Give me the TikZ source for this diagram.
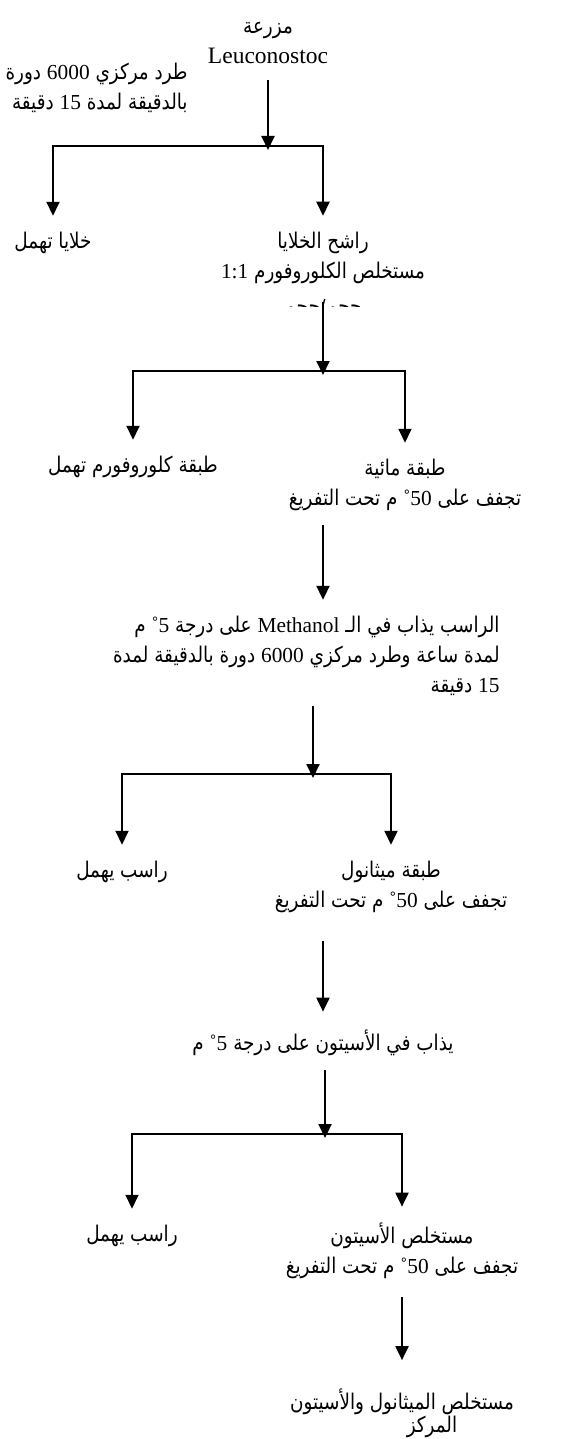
\documentclass[tikz,border=0pt]{standalone}
\usepackage{fontspec}
\setmainfont{Liberation Serif}
\newfontfamily\arabicfont[Script=Arabic,Scale=0.92,FakeStretch=0.85]{DejaVu Sans}
\newfontfamily\latinfont[Scale=0.91]{Liberation Serif}
\TeXXeTstate=1
\usetikzlibrary{arrows.meta}
\usetikzlibrary{positioning}
\newcommand{\arline}[1]{\beginR #1\endR}
\newcommand{\lat}[1]{\beginL{\latinfont #1}\endL}
\newcommand{\flowfont}{\fontsize{11.75}{15}\selectfont\arabicfont}
\tikzset{
    txt/.style={font=\flowfont, align=center, inner sep=0pt},
    flow/.style={-{Triangle[width=6.5pt, length=7pt]}, line width=1pt, line join=miter},
    leg/.style={flow, shorten >=8pt},
}

\begin{document}
\begin{tikzpicture}[x=0.5pt, y=-0.5pt]
    \useasboundingbox (0,0) rectangle (584,1439);
    % culture and first split
    \node[txt] (culture) at (268,43) {\arline{مزرعة}\\{\rmfamily Leuconostoc}};
    \node[txt, anchor=east, align=right] (spin) at (188,88)
        {\arline{طرد مركزي \lat{6000} دورة}\\\arline{بالدقيقة لمدة \lat{15} دقيقة}};
    \coordinate (split1) at (268,146);
    \node[txt] (cells) at (53,243) {\arline{خلايا تهمل}};
    \node[txt] (filtrate) at (323,258)
        {\arline{راشح الخلايا}\\\arline{مستخلص الكلوروفورم \lat{1:1}}};
    \begin{scope}
        \clip (240,299) rectangle (410,306);
        \node[txt] (ratio) at (323,308) {\arline{حجم/حجم}};
    \end{scope}
    \draw[flow, shorten <=8pt] (culture) -- ([yshift=-2pt]split1);
    \draw[leg] (split1) -| (cells);
    \draw[leg] (split1) -| (filtrate);

    % chloroform split
    \coordinate (split2) at (323,371);
    \node[txt] (chloro) at (133,467) {\arline{طبقة كلوروفورم تهمل}};
    \node[txt] (aqueous) at (405,485)
        {\arline{طبقة مائية}\\\arline{تجفف على \lat{˚50} م تحت التفريغ}};
    \draw[flow, shorten <=9pt] (filtrate) -- ([yshift=-2pt]split2);
    \draw[leg] (split2) -| (chloro);
    \draw[leg] (split2) -| (aqueous);

    % methanol step
    \node[txt, anchor=east, align=right] (methanol) at (500,656)
        {\arline{الراسب يذاب في الـ \lat{Methanol} على درجة \lat{˚5} م}\\
         \arline{لمدة ساعة وطرد مركزي \lat{6000} دورة بالدقيقة لمدة}\\
         \arline{\lat{15} دقيقة}};
    \draw[flow, shorten <=7pt, shorten >=8pt] (aqueous.south -| split2) -- (methanol.north -| split2);

    \coordinate (split3) at (313,774);
    \node[txt] (residue1) at (122,872) {\arline{راسب يهمل}};
    \node[txt] (methlayer) at (391,887)
        {\arline{طبقة ميثانول}\\\arline{تجفف على \lat{˚50} م تحت التفريغ}};
    \draw[flow, shorten <=5pt] (methanol.south -| split3) -- ([yshift=-2pt]split3);
    \draw[leg] (split3) -| (residue1);
    \draw[leg] (split3) -| (methlayer);

    % acetone step
    \node[txt] (acetone) at (323,1043) {\arline{يذاب في الأسيتون على درجة \lat{˚5} م}};
    \draw[flow, shorten <=14pt, shorten >=9pt] (methlayer.south -| acetone) -- (acetone);

    \coordinate (split4) at (325,1134);
    \node[txt] (residue2) at (132,1236) {\arline{راسب يهمل}};
    \node[txt] (acetext) at (402,1251)
        {\arline{مستخلص الأسيتون}\\\arline{تجفف على \lat{˚50} م تحت التفريغ}};
    \draw[flow, shorten <=7pt] (acetone.south -| split4) -- ([yshift=-2pt]split4);
    \draw[leg] (split4) -| (residue2);
    \draw[leg] (split4) -| (acetext);

    % final extract
    \node[txt] (final) at (402,1413)
        {\arline{مستخلص الميثانول والأسيتون}\\[-3.5pt]\hspace*{30pt}\arline{المركز}};
    \draw[flow, shorten <=9pt, shorten >=14pt] (acetext.south) -- (acetext.south |- final.north);
\end{tikzpicture}
\end{document}
